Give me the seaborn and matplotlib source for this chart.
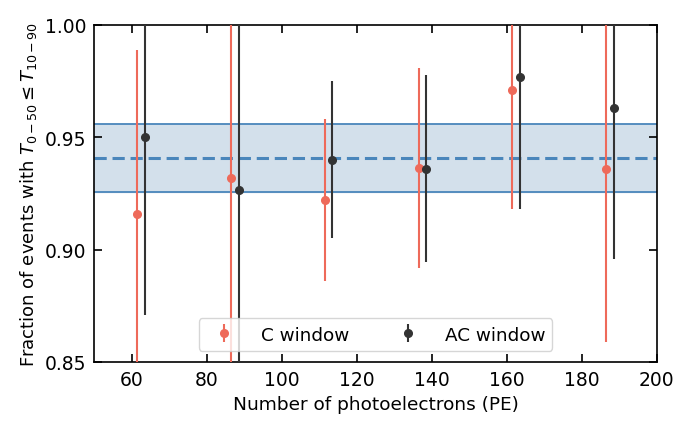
import matplotlib
matplotlib.use("Agg")
import numpy as np
import seaborn as sns
from matplotlib import pyplot as plt

# photoelectron bins (centres), each series offset slightly for visibility
pe_c = [61.5, 86.5, 111.5, 136.5, 161.5, 186.5]
pe_ac = [63.5, 88.5, 113.5, 138.5, 163.5, 188.5]

frac_c = [0.916, 0.932, 0.922, 0.9365, 0.971, 0.936]
err_c = [0.073, 0.090, 0.036, 0.0445, 0.053, 0.077]

frac_ac = [0.950, 0.9265, 0.940, 0.936, 0.977, 0.963]
err_ac = [0.079, 0.090, 0.035, 0.0415, 0.059, 0.067]

band_mean = 0.9407
band_lo = 0.9255
band_hi = 0.9559

red = "#ee6a5a"
dark = "#333333"
blue = "#4a86bb"

sns.set_style("ticks")
plt.rcParams["font.family"] = ["DejaVu Sans"]
plt.rcParams["text.color"] = "black"
plt.rcParams["axes.labelcolor"] = "black"
plt.rcParams["xtick.color"] = "black"
plt.rcParams["ytick.color"] = "black"
plt.rcParams["axes.edgecolor"] = "black"

fig, ax = plt.subplots(figsize=(6.89, 4.31), dpi=100)

ax.axhspan(band_lo, band_hi, color="#d3e0eb", zorder=0)
ax.axhline(band_lo, color=blue, lw=1.3, zorder=1)
ax.axhline(band_hi, color=blue, lw=1.3, zorder=1)
ax.axhline(band_mean, color=blue, lw=2.2, ls=(0, (4, 1.9)), zorder=1)

ax.errorbar(pe_c, frac_c, yerr=err_c, fmt="o", color=red, ms=5.5, lw=1.5,
            label="C window", zorder=3)
ax.errorbar(pe_ac, frac_ac, yerr=err_ac, fmt="o", color=dark, ms=5.5, lw=1.5,
            label="AC window", zorder=3)

ax.set_xlim(50, 200)
ax.set_ylim(0.85, 1.00)
ax.set_xticks(np.arange(60, 201, 20))
ax.set_yticks([0.85, 0.90, 0.95, 1.00])
ax.tick_params(direction="in", top=True, right=True, labelsize=13.5, length=6,
               width=1.2, pad=6)
for s in ax.spines.values():
    s.set_linewidth(1.2)

ax.set_xlabel("Number of photoelectrons (PE)", fontsize=13.3, labelpad=4)
ax.set_ylabel(r"Fraction of events with $T_{0-50} \leq T_{10-90}$", fontsize=13)
ax.legend(loc="lower center", ncol=2, fontsize=13.2, handletextpad=1.0,
          columnspacing=2.2, borderaxespad=0.6)

fig.subplots_adjust(left=0.137, right=0.953, top=0.94, bottom=0.158)
fig.savefig("out.png")
